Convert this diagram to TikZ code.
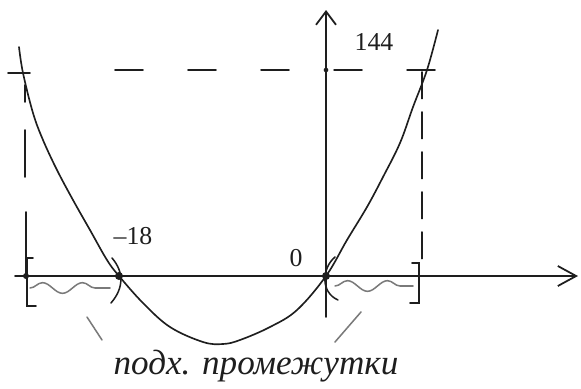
\documentclass[tikz,border=0pt]{standalone}
\usepackage{fontspec}
\setmainfont{Liberation Serif}
\usepackage{tikz}
\usetikzlibrary{arrows.meta,decorations.pathmorphing}
\definecolor{InkDark}{HTML}{1E1E1E}
\definecolor{InkGrey}{HTML}{7A7A7A}

\begin{document}
\begin{tikzpicture}[x=0.03cm,y=-0.03cm,
  ink/.style={InkDark, line width=1.5pt, line cap=round},
  faint/.style={InkGrey, line width=1.3pt, line cap=round},
  wave/.style={faint, decorate, decoration={snake, amplitude=0.16cm, segment length=1.2cm}},
  lbl/.style={InkDark, font=\fontsize{22}{26}\selectfont}]
  \useasboundingbox (0,0) rectangle (581,389);
  \fill[white] (0,0) rectangle (581,389);
  %% axes
  \coordinate (xs) at (15,276);
  \coordinate (xe) at (578,276);
  \coordinate (ys) at (326,317);
  \coordinate (ye) at (326,10);
  \draw[ink, -{Straight Barb[length=0.55cm,width=0.6cm]}] (xs) -- (xe);
  \draw[ink, -{Straight Barb[length=0.4cm,width=0.6cm]}] (ys) -- (ye);
  %% parabola
  \draw[ink, line width=1.4pt] plot[smooth, tension=0.6] coordinates {
    (19,47) (23,73) (33,113) (43,140) (57,170) (73,200) (90,230) (107,260) (119,276)
    (143,303) (170,327) (203,342) (223,344) (240,340) (270,327) (297,310) (326,276)
    (347,240) (367,207) (383,177) (400,143) (413,107) (427,70) (438,30)};
  %% level 144
  \coordinate (hl) at (115,70);
  \coordinate (hr) at (461,70);
  \draw[ink, line width=1.3pt, dash pattern=on 0.84cm off 1.35cm] (hl) -- (hr);
  \draw[ink, line width=1.3pt] (8,73) -- (30,73);
  \draw[ink, line width=1.3pt] (25,85) -- (25,102);
  \draw[ink, line width=1.3pt] (25,130) -- (25,177);
  \draw[ink, line width=1.3pt] (26,212) -- (26,276);
  \draw[ink, line width=1.3pt, dash pattern=on 0.8cm off 0.4cm] (422,72) -- (422,270);
  %% points
  \fill[InkDark] (326,70) circle (0.07cm);
  \fill[InkDark] (119,276) circle (0.12cm);
  \fill[InkDark] (326,276) circle (0.12cm);
  \fill[InkDark] (26,276) circle (0.09cm);
  %% brackets
  \draw[ink, line width=1.3pt] (33,258) -- (27,258) -- (27,306) -- (36,306);
  \draw[ink, line width=1.3pt] (412,263) -- (419,263) -- (419,303) -- (410,303);
  \draw[ink, line width=1.3pt] (112,258) .. controls (124,272) and (124,288) .. (111,303);
  \draw[ink, line width=1.3pt] (335,257) .. controls (322,268) and (320,292) .. (338,300);
  %% suitable intervals
  \draw[wave] (30,288) -- (110,288);
  \draw[wave] (335,286) -- (413,286);
  \draw[faint] (87,317) -- (102,340);
  \draw[faint] (361,312) -- (335,342);
  %% text
  \node[lbl] (t144) at (374,42) {144};
  \node[lbl] (tm18) at (133,236) {–18};
  \node[lbl] (tzero) at (296,258) {0};
  \node[InkDark, font=\fontsize{30}{34}\selectfont\itshape] (tint) at (256,366) {подх. промежутки};
\end{tikzpicture}
\end{document}
